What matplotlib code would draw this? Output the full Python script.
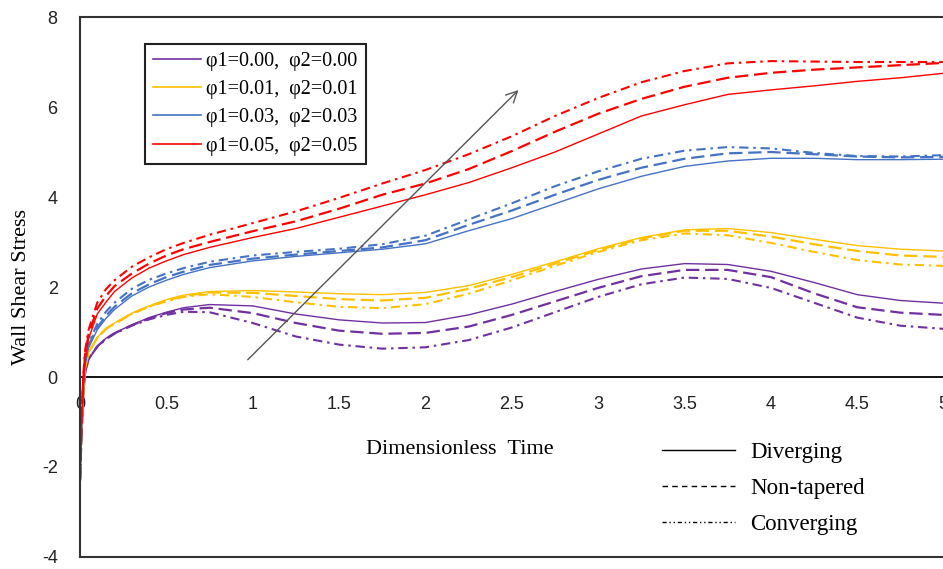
import matplotlib
matplotlib.use("Agg")
import matplotlib.pyplot as plt
from matplotlib.lines import Line2D

plt.rcParams['axes.unicode_minus'] = False

# time samples (dimensionless)
t = [0, 0.01, 0.02, 0.03, 0.05, 0.1, 0.15, 0.2, 0.3, 0.4, 0.5, 0.6, 0.75,
     1.0, 1.25, 1.5, 1.75, 2.0, 2.25, 2.5, 2.75, 3.0, 3.25, 3.5, 3.75,
     4.0, 4.25, 4.5, 4.75, 5.0]

# wall shear stress, phi1 = phi2 = 0.00
p0_div = [-2.3, -1.2, -0.35, 0.1, 0.4, 0.68, 0.86, 0.98, 1.16, 1.32, 1.44, 1.54, 1.61,
          1.58, 1.40, 1.27, 1.20, 1.21, 1.38, 1.62, 1.90, 2.17, 2.40, 2.52, 2.50,
          2.35, 2.10, 1.83, 1.70, 1.64]
p0_non = [-2.3, -1.2, -0.35, 0.1, 0.4, 0.68, 0.85, 0.97, 1.15, 1.30, 1.42, 1.50, 1.54,
          1.42, 1.20, 1.03, 0.96, 0.98, 1.12, 1.38, 1.68, 1.98, 2.24, 2.38, 2.38,
          2.22, 1.86, 1.55, 1.43, 1.38]
p0_con = [-2.3, -1.2, -0.35, 0.1, 0.4, 0.67, 0.84, 0.96, 1.14, 1.28, 1.38, 1.45, 1.44,
          1.20, 0.90, 0.72, 0.63, 0.66, 0.82, 1.10, 1.44, 1.78, 2.06, 2.21, 2.18,
          1.98, 1.65, 1.32, 1.14, 1.07]

# phi1 = phi2 = 0.01
p1_div = [-2.3, -1.1, -0.25, 0.2, 0.55, 0.88, 1.08, 1.20, 1.42, 1.58, 1.72, 1.82, 1.90,
          1.92, 1.89, 1.85, 1.83, 1.88, 2.03, 2.28, 2.56, 2.85, 3.10, 3.27, 3.30,
          3.21, 3.06, 2.92, 2.84, 2.80]
p1_non = [-2.3, -1.1, -0.25, 0.2, 0.55, 0.87, 1.07, 1.19, 1.41, 1.57, 1.70, 1.80, 1.88,
          1.87, 1.80, 1.73, 1.70, 1.76, 1.96, 2.22, 2.52, 2.82, 3.08, 3.25, 3.25,
          3.12, 2.95, 2.80, 2.70, 2.67]
p1_con = [-2.3, -1.1, -0.25, 0.2, 0.55, 0.87, 1.06, 1.18, 1.40, 1.56, 1.68, 1.78, 1.84,
          1.78, 1.66, 1.56, 1.53, 1.62, 1.85, 2.15, 2.47, 2.78, 3.04, 3.19, 3.15,
          2.98, 2.78, 2.60, 2.50, 2.47]

# phi1 = phi2 = 0.03
p3_div = [-2.3, -1.0, -0.15, 0.3, 0.65, 1.05, 1.30, 1.50, 1.80, 2.00, 2.15, 2.28, 2.43,
          2.58, 2.68, 2.76, 2.84, 2.96, 3.25, 3.52, 3.85, 4.18, 4.46, 4.68, 4.80,
          4.86, 4.86, 4.83, 4.83, 4.84]
p3_non = [-2.3, -1.0, -0.1, 0.35, 0.70, 1.10, 1.36, 1.56, 1.86, 2.06, 2.22, 2.34, 2.49,
          2.63, 2.72, 2.80, 2.88, 3.04, 3.38, 3.70, 4.05, 4.38, 4.65, 4.85, 4.97,
          5.00, 4.95, 4.90, 4.88, 4.89]
p3_con = [-2.3, -1.0, -0.05, 0.4, 0.75, 1.18, 1.45, 1.65, 1.96, 2.16, 2.30, 2.42, 2.56,
          2.70, 2.78, 2.85, 2.95, 3.14, 3.50, 3.86, 4.24, 4.57, 4.85, 5.03, 5.11,
          5.08, 4.98, 4.91, 4.90, 4.93]

# phi1 = phi2 = 0.05
p5_div = [-2.3, -0.9, -0.1, 0.4, 0.85, 1.40, 1.66, 1.90, 2.20, 2.42, 2.58, 2.72, 2.88,
          3.10, 3.30, 3.55, 3.80, 4.05, 4.32, 4.65, 5.00, 5.40, 5.80, 6.05, 6.28,
          6.38, 6.47, 6.57, 6.65, 6.75]
p5_non = [-2.3, -0.85, 0.0, 0.5, 0.95, 1.52, 1.80, 2.02, 2.30, 2.52, 2.70, 2.84, 3.00,
          3.24, 3.46, 3.74, 4.05, 4.30, 4.62, 5.02, 5.45, 5.85, 6.18, 6.45, 6.65,
          6.76, 6.83, 6.88, 6.93, 6.98]
p5_con = [-2.3, -0.8, 0.1, 0.6, 1.05, 1.65, 1.95, 2.15, 2.45, 2.66, 2.84, 2.98, 3.16,
          3.42, 3.68, 3.98, 4.30, 4.60, 4.95, 5.35, 5.80, 6.20, 6.55, 6.80, 6.97,
          7.02, 7.01, 7.00, 7.00, 7.00]

phi_labels = ['φ1=0.00,  φ2=0.00', 'φ1=0.01,  φ2=0.01',
              'φ1=0.03,  φ2=0.03', 'φ1=0.05,  φ2=0.05']
colors = ['#7030A0', '#FFC000', '#4472C4', '#FF0000']
groups = [(p0_div, p0_non, p0_con), (p1_div, p1_non, p1_con),
          (p3_div, p3_non, p3_con), (p5_div, p5_non, p5_con)]

shape_labels = ['Diverging', 'Non-tapered', 'Converging']

x_ticks = [0, 0.5, 1, 1.5, 2, 2.5, 3, 3.5, 4, 4.5, 5]
x_tick_labels = ['0', '0.5', '1', '1.5', '2', '2.5', '3', '3.5', '4', '4.5', '5']
y_ticks = [-4, -2, 0, 2, 4, 6, 8]
y_tick_labels = ['-4', '-2', '0', '2', '4', '6', '8']

serif = 'Liberation Serif'
sans = 'Liberation Sans'

fig = plt.figure(figsize=(9.43, 5.69), dpi=100)
ax = fig.add_axes([0.0848, 0.0211, 0.925, 0.9490])

dash = (0, (6.0, 2.6))
dashdot = (0, (4.5, 2.3, 1.2, 2.3))
for color, (div, non, con) in zip(colors, groups):
    ax.plot(t, div, color=color, lw=1.0, ls='-')
    ax.plot(t, non, color=color, lw=1.6, ls=dash)
    ax.plot(t, con, color=color, lw=1.5, ls=dashdot)

ax.set_xlim(0, 5.05)
ax.set_ylim(-4, 8)
ax.set_yticks(y_ticks, labels=y_tick_labels)
ax.tick_params(axis='y', length=0, pad=16, labelsize=13, labelcolor='#222222')
ax.tick_params(axis='x', bottom=False, labelbottom=False)
for lab in ax.get_yticklabels():
    lab.set_fontfamily(sans)
for side in ['left', 'top', 'bottom']:
    ax.spines[side].set_linewidth(1.5)
    ax.spines[side].set_color('#333333')
ax.spines['right'].set_visible(False)

# x axis through y = 0
sec = ax.secondary_xaxis(0, transform=ax.transData)
sec.set_xticks(x_ticks, labels=x_tick_labels)
sec.tick_params(length=0, pad=14, labelsize=13, labelcolor='#222222')
for lab in sec.get_xticklabels():
    lab.set_fontfamily(sans)
sec.spines['bottom'].set_linewidth(1.3)
sec.spines['bottom'].set_color('black')

ax.set_ylabel('Wall Shear Stress', family=serif, fontsize=16, labelpad=8)
ax.text(0.435, 0.199, 'Dimensionless  Time', transform=ax.transAxes,
        family=serif, fontsize=16, ha='center', va='center')

# trend arrow
ax.annotate('', xy=(2.55, 6.42), xytext=(0.96, 0.34),
            arrowprops=dict(arrowstyle='->', color='#555555', lw=1.0,
                            mutation_scale=20))

# legend for volume fractions
phi_handles = [Line2D([], [], color=c, lw=1.2) for c in colors]
leg1 = fig.legend(phi_handles, phi_labels, loc='upper left',
                  bbox_to_anchor=(0.1538, 0.9227), borderaxespad=0,
                  prop={'family': serif, 'size': 14.5}, frameon=True,
                  fancybox=False, edgecolor='#222222', framealpha=1,
                  handlelength=2.4, handletextpad=0.25, labelspacing=0.45,
                  borderpad=0.4)
leg1.get_frame().set_linewidth(1.5)

# legend for artery geometry
shape_handles = [Line2D([], [], color='black', lw=1.0, ls='-'),
                 Line2D([], [], color='black', lw=1.0, ls=(0, (4, 3))),
                 Line2D([], [], color='black', lw=1.0, ls=(0, (3, 2, 1, 2, 1, 2)))]
fig.legend(shape_handles, shape_labels, loc='upper left',
           bbox_to_anchor=(0.702, 0.223), borderaxespad=0, borderpad=0,
           prop={'family': serif, 'size': 16.5}, frameon=False,
           handlelength=3.2, handletextpad=0.65, labelspacing=0.65)

fig.savefig('out.png', dpi=100)
